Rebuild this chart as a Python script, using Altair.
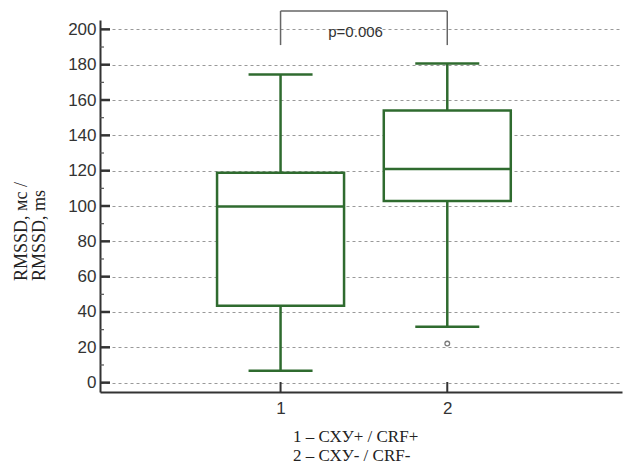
import altair as alt
import pandas as pd

# ---- data ----
groups = [1, 2]
whisker_low = [6.8, 31.7]
q1 = [43.5, 102.8]
median = [99.7, 120.9]
q3 = [118.8, 154.1]
whisker_high = [174.5, 180.7]
outlier_group = [2]
outlier_value = [22.1]
y_major = list(range(0, 201, 20))
y_minor = list(range(10, 200, 20))
x_ticks = [1, 2]
p_label = "p=0.006"
p_pos = [1.45, 198.3]
bracket_low = 191.1
bracket_high = 210.4
y_title_lines = ["RMSSD, мс /", "RMSSD, ms"]
legend_lines = ["1 – СХУ+ / CRF+", "2 – СХУ- / CRF-"]

GREEN = "#2f6b2f"
SW = 2.5

xscale = alt.Scale(domain=[-0.053, 3.018], nice=False, zero=False)
yscale = alt.Scale(domain=[-5.3, 205.3], nice=False, zero=False)

def X(field="g"):
    return alt.X(f"{field}:Q", scale=xscale, title=None,
                 axis=alt.Axis(values=x_ticks, format="d", grid=False, ticks=False,
                               labelPadding=8, domainWidth=2, domainColor="#333"))

def Y(field="v"):
    return alt.Y(f"{field}:Q", scale=yscale, title=None,
                 axis=alt.Axis(values=y_major, grid=True, ticks=False, labelPadding=4,
                               gridDash=[3, 3], gridColor="#999", gridWidth=1,
                               domainWidth=2, domainColor="#333"))

stats = pd.DataFrame({"g": groups, "wl": whisker_low, "q1": q1, "med": median,
                      "q3": q3, "wh": whisker_high})

def frame(a, b=None):
    d = pd.DataFrame({"g": stats["g"], "v": stats[a]})
    if b is not None:
        d["v2"] = stats[b]
    return d

box = alt.Chart(frame("q1", "q3")).mark_bar(size=127, fill="white", stroke=GREEN,
                                             strokeWidth=SW).encode(
    x=X(), y=Y(), y2="v2:Q")
wlow = alt.Chart(frame("wl", "q1")).mark_rule(color=GREEN, strokeWidth=SW).encode(
    x=X(), y=Y(), y2="v2:Q")
whigh = alt.Chart(frame("q3", "wh")).mark_rule(color=GREEN, strokeWidth=SW).encode(
    x=X(), y=Y(), y2="v2:Q")
med = alt.Chart(frame("med")).mark_tick(orient="horizontal", size=127, thickness=SW,
                                        color=GREEN, opacity=1).encode(x=X(), y=Y())
cap_lo = alt.Chart(frame("wl")).mark_tick(orient="horizontal", size=64, thickness=SW,
                                          color=GREEN, opacity=1).encode(x=X(), y=Y())
cap_hi = alt.Chart(frame("wh")).mark_tick(orient="horizontal", size=64, thickness=SW,
                                          color=GREEN, opacity=1).encode(x=X(), y=Y())
outl = alt.Chart(pd.DataFrame({"g": outlier_group, "v": outlier_value})).mark_point(
    shape="circle", size=22, filled=False, color="#444", strokeWidth=1.3).encode(x=X(), y=Y())

br_h = alt.Chart(pd.DataFrame({"g": [groups[0]], "g2": [groups[1]], "v": [bracket_high]})).mark_rule(
    color="#666", strokeWidth=1.5, clip=False).encode(x=X(), x2="g2:Q", y=Y())
br_v = alt.Chart(pd.DataFrame({"g": groups, "v": [bracket_low] * 2, "v2": [bracket_high] * 2})).mark_rule(
    color="#666", strokeWidth=1.5, clip=False).encode(x=X(), y=Y(), y2="v2:Q")
ptext = alt.Chart(pd.DataFrame({"g": [p_pos[0]], "v": [p_pos[1]], "t": [p_label]})).mark_text(
    font="Liberation Sans", fontSize=15, color="#333").encode(x=X(), y=Y(), text="t:N")

ymaj = alt.Chart(pd.DataFrame({"v": y_major})).mark_rule(color="#333", strokeWidth=2.5).encode(
    x=alt.value(0), x2=alt.value(10), y=Y())
ymin = alt.Chart(pd.DataFrame({"v": y_minor})).mark_rule(color="#555", strokeWidth=1.2).encode(
    x=alt.value(0), x2=alt.value(4), y=Y())
xtk = alt.Chart(pd.DataFrame({"g": x_ticks})).mark_rule(color="#333", strokeWidth=2).encode(
    x=X(), y=alt.value(372), y2=alt.value(362))

yt1 = alt.Chart(pd.DataFrame({"t": [y_title_lines[0]]})).mark_text(
    font="Liberation Serif", fontSize=18, angle=270, align="left", baseline="middle",
    color="#222").encode(x=alt.value(-78), y=alt.value(261), text="t:N")
yt2 = alt.Chart(pd.DataFrame({"t": [y_title_lines[1]]})).mark_text(
    font="Liberation Serif", fontSize=18, angle=270, align="left", baseline="middle",
    color="#222").encode(x=alt.value(-60), y=alt.value(261), text="t:N")
lg1 = alt.Chart(pd.DataFrame({"t": [legend_lines[0]]})).mark_text(
    font="Liberation Serif", fontSize=17, align="left", baseline="alphabetic",
    color="#222").encode(x=alt.value(193), y=alt.value(422), text="t:N")
lg2 = alt.Chart(pd.DataFrame({"t": [legend_lines[1]]})).mark_text(
    font="Liberation Serif", fontSize=17, align="left", baseline="alphabetic",
    color="#222").encode(x=alt.value(193), y=alt.value(441), text="t:N")

chart = alt.layer(
    wlow, whigh, box, med, cap_lo, cap_hi, outl, br_h, br_v, ptext,
    ymaj, ymin, xtk, yt1, yt2, lg1, lg2
).properties(
    width=522, height=372,
    padding={"left": 100, "top": 20, "right": 3, "bottom": 74},
    autosize=alt.AutoSizeParams(type="none"),
    background="white",
).configure_view(stroke=None).configure_axis(
    labelFont="Liberation Sans", labelFontSize=17, labelColor="#333"
)

chart.save("out.html", embed_options={"renderer": "svg", "actions": False})
